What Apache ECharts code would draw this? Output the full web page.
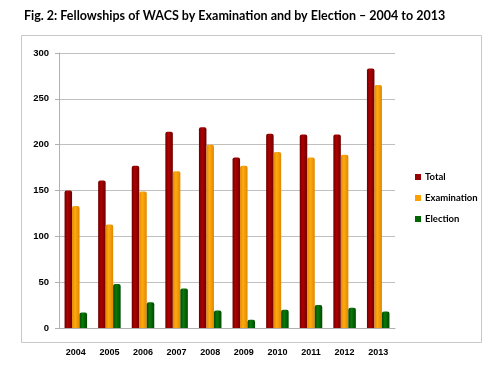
<!DOCTYPE html>
<html><head><meta charset="utf-8">
<script src="https://cdn.jsdelivr.net/npm/echarts@6/dist/echarts.min.js"></script>
<style>html,body{margin:0;padding:0;background:#fff}#c{width:500px;height:375px}</style>
</head><body><div id="c"></div>
<script>
var years = ['2004','2005','2006','2007','2008','2009','2010','2011','2012','2013'];
var total = [150, 161, 177, 214, 219, 186, 212, 211, 211, 283];
var examination = [133, 113, 149, 171, 200, 177, 192, 186, 189, 265];
var election = [17, 48, 28, 43, 19, 9, 20, 25, 22, 18];
var yTicks = [0, 50, 100, 150, 200, 250, 300];

function grad(dark, mid) {
  return new echarts.graphic.LinearGradient(0, 0, 1, 0, [
    {offset: 0, color: dark}, {offset: 0.4, color: mid}, {offset: 1, color: dark}
  ]);
}
var chart = echarts.init(document.getElementById('c'));
chart.setOption({
  animation: false,
  title: {
    text: 'Fig. 2: Fellowships of WACS by Examination and by Election \u2013 2004 to 2013',
    left: 19, top: 4,
    textStyle: {fontFamily: 'Lato', fontWeight: 'bold', fontSize: 12.5, color: '#000'}
  },
  graphic: [{
    type: 'rect', shape: {x: 21.5, y: 35.5, width: 460, height: 307},
    style: {fill: 'none', stroke: '#c8c8c8', lineWidth: 1}, silent: true
  }],
  legend: {
    orient: 'vertical', left: 410, top: 167,
    itemWidth: 6, itemHeight: 6, itemGap: 11,
    icon: 'rect',
    textStyle: {fontFamily: 'Lato', fontWeight: 'bold', fontSize: 9.5, color: '#000', padding: [0, 0, 0, -1]},
    data: [
      {name: 'Total', itemStyle: {color: '#990000'}},
      {name: 'Examination', itemStyle: {color: '#ffa000'}},
      {name: 'Election', itemStyle: {color: '#006600'}}
    ]
  },
  grid: {left: 59, right: 105, top: 53, bottom: 47},
  xAxis: {
    type: 'category', data: years,
    axisLine: {lineStyle: {color: '#b0b0b0'}},
    axisTick: {show: false},
    axisLabel: {margin: 20, fontFamily: 'Liberation Sans', fontWeight: 'bold', fontSize: 9, color: '#000'}
  },
  yAxis: {
    type: 'value', min: 0, max: 300, interval: 50,
    axisLine: {show: true, lineStyle: {color: '#b0b0b0'}},
    axisTick: {show: true, length: 4, lineStyle: {color: '#b0b0b0'}},
    splitLine: {lineStyle: {color: '#c0c0c0'}},
    axisLabel: {
      margin: 10, fontFamily: 'Liberation Sans', fontWeight: 'bold', fontSize: 9.5, color: '#000',
      formatter: function (v) { return yTicks.indexOf(v) >= 0 ? String(v) : ''; }
    }
  },
  series: [
    {name: 'Total', type: 'bar', data: total, barGap: '0%', barCategoryGap: '33%',
     itemStyle: {color: grad('#6e0000', '#b00000'), borderRadius: [2, 2, 0, 0]}},
    {name: 'Examination', type: 'bar', data: examination, barGap: '0%', barCategoryGap: '33%',
     itemStyle: {color: grad('#e08800', '#ffaa10'), borderRadius: [2, 2, 0, 0]}},
    {name: 'Election', type: 'bar', data: election, barGap: '0%', barCategoryGap: '33%',
     itemStyle: {color: grad('#004a00', '#0a7a0a'), borderRadius: [2, 2, 0, 0]}}
  ]
});
</script></body></html>
